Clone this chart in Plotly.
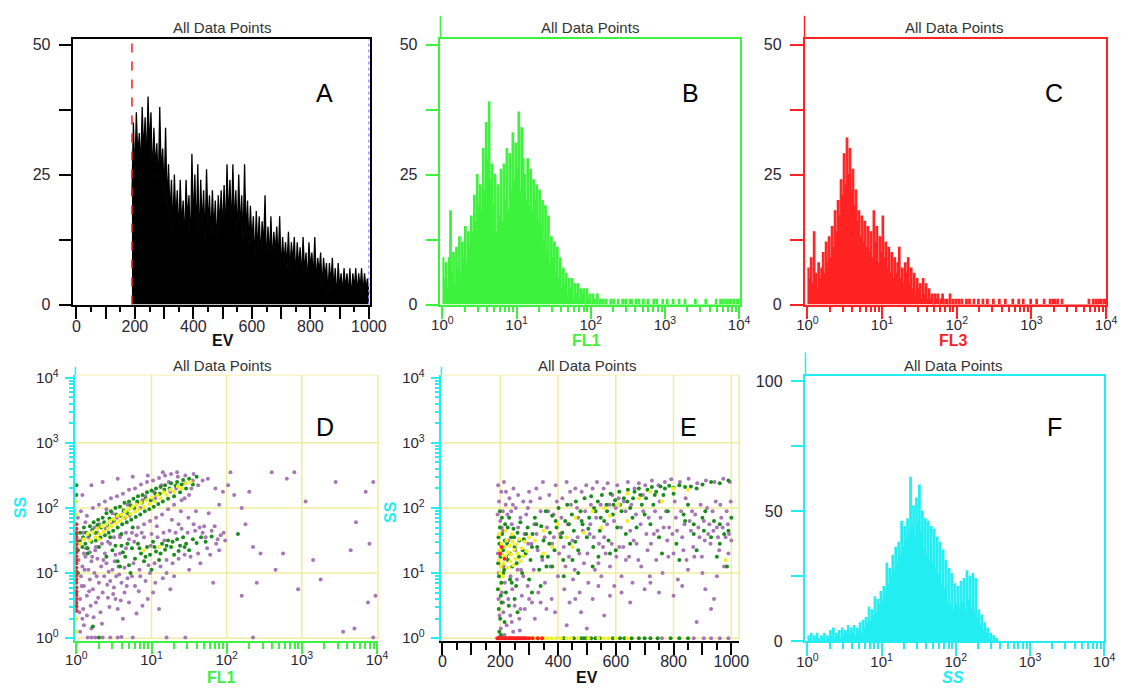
import plotly.graph_objects as go

W, H = 1128, 695
FONT = "Liberation Sans"
TICKC = "#2a2535"

# ---------------- DATA ----------------
# Panel A: EV histogram, counts per channel for EV = 190, 195, ..., 1000
A_ev_start = 190
A_ev_step = 5
A_counts = [
    21, 35, 24, 37, 28, 33, 26, 38, 29, 36,
    27, 40, 30, 37, 24, 34, 26, 31, 22, 38,
    25, 30, 21, 34, 19, 27, 17, 24, 14, 25,
    16, 22, 13, 24, 15, 20, 12, 24, 16, 21,
    10, 29, 15, 25, 13, 27, 11, 24, 15, 22,
    12, 26, 15, 21, 13, 22, 14, 20, 11, 21,
    15, 22, 14, 23, 13, 27, 16, 24, 14, 27,
    15, 22, 13, 25, 14, 21, 12, 27, 13, 20,
    11, 19, 12, 17, 8, 18, 10, 17, 9, 16,
    11, 21, 7, 15, 9, 17, 8, 14, 10, 15,
    8, 17, 6, 13, 8, 12, 7, 14, 6, 12,
    8, 13, 5, 12, 7, 11, 5, 13, 6, 10,
    4, 12, 7, 10, 5, 13, 4, 9, 6, 10,
    3, 9, 5, 8, 2, 8, 4, 9, 3, 7,
    1, 8, 3, 6, 2, 7, 3, 6, 2, 7,
    1, 6, 3, 7, 2, 6, 3, 7, 2, 6,
    3, 5, 2,
]
A_gate_low = 190      # red dashed gate
A_gate_high = 1000    # blue dotted gate

# Panels B, C, F: log histograms, one count per 0.02 decade starting at 10^0
LOG_STEP = 0.02
B_fl1_counts = [
    9, 5, 8, 3, 9, 18, 6, 10, 4, 11,
    7, 13, 6, 12, 9, 15, 8, 14, 11, 17,
    14, 21, 16, 25, 19, 23, 18, 30, 22, 35,
    28, 39, 24, 27, 19, 25, 14, 23, 17, 26,
    16, 27, 20, 30, 18, 29, 22, 33, 24, 31,
    26, 37, 22, 34, 28, 25, 20, 28, 19, 26,
    18, 24, 20, 23, 16, 22, 15, 20, 12, 19,
    10, 17, 8, 13, 9, 12, 6, 11, 5, 9,
    3, 7, 4, 6, 2, 5, 3, 5, 1, 4,
    2, 4, 1, 3, 2, 3, 0, 3, 1, 2,
    0, 2, 1, 0, 2, 0, 1, 0, 1, 0,
    1, 0, 0, 1, 0, 1, 0, 0, 1, 0,
    0, 1, 0, 1, 0, 0, 1, 1, 0, 0,
    1, 0, 1, 0, 0, 1, 0, 0, 1, 0,
    0, 0, 1, 0, 1, 0, 0, 0, 1, 0,
    0, 1, 0, 0, 0, 1, 0, 0, 0, 1,
    0, 0, 0, 1, 0, 0, 0, 0, 0, 0,
    1, 0, 0, 0, 0, 0, 0, 1, 0, 0,
    0, 0, 0, 0, 1, 0, 0, 1, 0, 1,
    0, 1, 0, 1, 1, 0, 1, 0, 1, 1,
    0,
]
C_fl3_counts = [
    7, 5, 9, 4, 14, 6, 3, 8, 5, 7,
    10, 6, 12, 8, 13, 9, 15, 11, 18, 14,
    20, 17, 24, 21, 29, 23, 32, 25, 30, 22,
    26, 19, 22, 16, 18, 13, 17, 12, 16, 11,
    15, 10, 14, 9, 18, 12, 15, 8, 13, 10,
    17, 9, 12, 7, 11, 6, 10, 5, 9, 6,
    8, 11, 5, 7, 4, 8, 6, 9, 4, 7,
    3, 6, 2, 5, 3, 4, 1, 5, 2, 4,
    1, 3, 1, 2, 0, 2, 1, 2, 0, 1,
    2, 0, 1, 1, 0, 2, 0, 1, 0, 1,
    0, 1, 0, 1, 0, 0, 1, 0, 1, 0,
    0, 1, 0, 0, 1, 0, 0, 1, 0, 0,
    1, 0, 0, 0, 1, 0, 0, 0, 1, 0,
    0, 0, 1, 0, 0, 0, 0, 1, 0, 0,
    0, 1, 0, 0, 1, 0, 0, 0, 0, 1,
    0, 0, 0, 1, 0, 0, 0, 0, 1, 0,
    0, 0, 1, 0, 1, 1, 0, 1, 0, 0,
    1, 0, 0, 0, 0, 0, 0, 0, 0, 0,
    0, 0, 0, 0, 0, 0, 0, 0, 1, 0,
    0, 1, 0, 1, 0, 1, 1, 0, 1, 1,
    0,
]
F_ss_counts = [
    2, 1, 3, 0, 2, 1, 3, 1, 0, 2,
    1, 3, 0, 2, 1, 4, 2, 5, 1, 3,
    2, 4, 1, 5, 2, 4, 3, 6, 2, 5,
    3, 6, 2, 5, 4, 7, 3, 8, 5, 9,
    7, 13, 8, 12, 10, 17, 11, 16, 14, 19,
    15, 21, 18, 30, 22, 28, 25, 33, 27, 36,
    30, 38, 33, 46, 36, 44, 39, 47, 42, 63,
    44, 52, 40, 55, 45, 60, 42, 50, 36, 47,
    33, 46, 31, 44, 30, 43, 28, 40, 26, 38,
    22, 35, 20, 31, 15, 28, 14, 26, 12, 22,
    14, 21, 13, 23, 15, 24, 12, 27, 16, 25,
    13, 26, 11, 24, 9, 12, 6, 10, 4, 7,
    3, 5, 1, 3, 0, 2, 0, 1, 0, 0,
]

# Panel D: FL1 vs SS dot plot, positions in decades (log10 FL1, log10 SS)
D_purple = [
    (0.03,1.20),(0.06,0.95),(0.08,1.10),(0.10,0.80),(0.12,1.25),(0.14,0.65),(0.16,1.05),(0.18,0.90),
    (0.20,1.18),(0.22,0.75),(0.24,1.00),(0.26,0.55),(0.28,1.22),(0.30,0.85),(0.33,1.10),(0.35,0.70),
    (0.37,0.95),(0.40,1.15),(0.42,0.62),(0.45,0.88),(0.48,1.05),(0.50,0.78),(0.53,0.95),(0.56,1.10),
    (0.60,0.85),(0.64,0.70),(0.68,0.92),(0.05,0.60),(0.09,0.45),(0.13,1.38),(0.19,0.50),(0.25,1.35),
    (0.32,0.40),(0.38,1.30),(0.44,0.48),(0.52,0.60),(0.58,1.30),(0.70,0.55),(0.78,0.80),(0.85,0.95),
    (0.95,0.60),(1.05,0.85),(1.25,0.75),(1.10,0.45),(0.88,0.50),(0.62,0.30),
    (0.02,1.85),(0.06,1.95),(0.10,1.30),(0.14,1.88),(0.18,1.32),(0.22,2.00),(0.26,1.40),(0.30,2.05),
    (0.34,1.45),(0.38,2.10),(0.42,1.48),(0.46,2.15),(0.50,1.55),(0.54,2.18),(0.58,1.58),(0.62,2.22),
    (0.66,1.62),(0.70,2.28),(0.74,1.62),(0.78,2.30),(0.82,1.70),(0.86,2.36),(0.90,1.75),(0.94,2.40),
    (0.98,1.80),(1.02,2.42),(1.06,1.85),(1.10,2.46),(1.14,1.90),(1.18,2.50),(1.22,1.98),(1.26,2.52),
    (1.30,2.05),(1.34,2.55),(1.40,2.12),(1.45,2.50),(1.50,2.20),(1.56,2.52),(1.62,2.35),(1.68,2.42),
    (0.08,2.20),(0.20,2.35),(0.35,2.40),(0.55,2.45),(0.75,2.48),(0.95,2.50),(1.15,2.55),(1.35,2.48),
    (0.12,1.78),(0.40,1.98),(0.65,1.85),(0.85,2.00),(1.05,2.15),(1.25,2.25),(0.28,1.62),(0.48,1.92),
    (0.68,2.05),(0.88,2.12),(1.45,2.38),(1.55,2.42),
    (0.45,1.45),(0.52,1.28),(0.58,1.55),(0.64,1.08),(0.70,1.52),(0.76,1.15),(0.80,1.58),(0.84,1.05),
    (0.90,1.55),(0.96,1.12),(1.00,1.60),(1.04,1.15),(1.08,1.55),(1.12,1.10),(1.16,1.62),(1.20,1.20),
    (1.24,1.65),(1.28,1.15),(1.32,1.62),(1.36,1.22),(1.40,1.68),(1.44,1.28),(1.48,1.62),(1.52,1.25),
    (1.58,1.65),(1.62,1.30),(1.68,1.62),(1.74,1.38),(1.80,1.65),(1.86,1.45),(1.92,1.58),(1.98,1.50),
    (1.96,1.62),(1.90,1.35),(1.78,1.28),(1.70,1.72),(1.56,1.75),(1.36,1.75),(0.98,1.00),(1.20,1.00),
    (2.05,2.55),(2.10,2.20),(2.20,2.00),(2.25,1.75),(2.30,2.25),(2.35,1.40),(2.45,1.30),(2.60,2.55),
    (2.65,1.05),(2.75,1.30),(2.80,2.45),(2.90,2.55),(2.95,0.75),(3.05,2.10),(3.15,1.20),(3.25,0.90),
    (3.45,2.40),(3.65,1.35),(3.70,0.15),(3.85,2.25),(3.95,2.40),(3.72,1.78),(3.90,1.45),(3.88,0.55),
    (3.55,0.10),(3.98,0.65),(2.40,0.85),(2.20,0.65),(1.75,2.45),(1.85,2.30),(1.95,2.25),(1.82,0.85),
    (1.90,2.05),(2.02,2.35),
    (0.15,0.01),(0.20,0.01),(0.25,0.01),(0.35,0.01),(0.45,0.01),(0.55,0.01),(0.60,0.02),(0.75,0.01),
    (1.20,0.01),(1.45,0.01),(2.35,0.01),(3.95,0.01),(0.05,0.10),(0.10,0.20),(0.08,0.30),(0.14,0.35),
    (0.20,0.15),
    (0.05,1.50),(0.09,1.62),(0.11,1.05),(0.16,1.55),(0.21,1.25),(0.24,1.70),(0.27,0.95),(0.31,1.75),
    (0.36,1.20),(0.39,1.68),(0.43,1.02),(0.47,1.78),(0.51,1.18),(0.54,1.85),(0.57,0.98),(0.63,1.95),
    (0.66,1.38),(0.71,1.88),(0.77,1.48),(0.81,2.08),(0.87,1.62),(0.92,2.18),(0.99,1.42),(1.03,2.25),
    (1.07,1.72),(1.13,2.35),(1.17,1.50),(1.23,2.40),(1.27,1.82),(1.33,2.30),(1.39,1.95),(1.44,2.15),
    (1.49,1.85),(1.53,2.30),(1.59,1.95),(1.64,1.70),(1.72,1.55),(1.76,1.92),(1.84,1.72),(1.88,1.52),
    (0.07,0.80),(0.17,0.72),(0.29,0.62),(0.41,0.82),(0.49,0.68),(0.59,0.58),(0.67,0.80),(0.74,0.95),
    (0.83,0.72),(0.92,0.88),(1.02,0.70),(1.15,0.92),(0.04,0.40),(0.23,0.32),(0.34,0.22),(0.55,0.45),
    (0.80,0.38),(1.30,0.95),(1.50,1.05),(1.65,1.15),
]
D_green = [
    (0.02,1.35),(0.05,1.62),(0.08,1.40),(0.10,1.70),(0.12,1.45),(0.15,1.38),(0.18,1.72),(0.20,1.48),
    (0.23,1.78),(0.26,1.50),(0.29,1.82),(0.32,1.55),(0.35,1.85),(0.38,1.58),(0.40,1.92),(0.43,1.62),
    (0.46,1.95),(0.49,1.65),(0.52,2.00),(0.55,1.70),(0.58,2.02),(0.61,1.75),(0.64,2.08),(0.67,1.78),
    (0.70,2.10),(0.73,1.82),(0.76,2.14),(0.79,1.86),(0.82,2.18),(0.85,1.90),(0.88,2.20),(0.91,1.95),
    (0.94,2.24),(0.97,1.98),(1.00,2.27),(1.03,2.02),(1.06,2.30),(1.09,2.06),(1.12,2.32),(1.15,2.10),
    (1.18,2.35),(1.22,2.14),(1.26,2.38),(1.30,2.18),(1.34,2.40),(1.38,2.24),(1.42,2.43),(1.46,2.30),
    (1.50,2.45),(1.55,2.36),(1.60,2.48),(0.60,1.60),(0.45,1.55),(0.75,1.70),(0.30,1.40),(0.15,1.30),
    (0.40,1.25),(0.48,1.35),(0.55,1.18),(0.60,1.42),(0.65,1.25),(0.70,1.12),(0.74,1.38),(0.78,1.22),
    (0.82,1.45),(0.86,1.30),(0.90,1.18),(0.94,1.40),(0.98,1.28),(1.02,1.48),(1.06,1.33),(1.10,1.20),
    (1.14,1.45),(1.18,1.36),(1.22,1.50),(1.26,1.40),(1.30,1.28),(1.34,1.52),(1.38,1.42),(1.42,1.55),
    (1.46,1.45),(1.50,1.35),(1.55,1.52),(1.60,1.46),(1.66,1.55),(1.72,1.48),(1.80,1.56),(2.15,1.60),
    (0.72,1.00),(1.00,1.05),
    (0.00,2.35),(0.00,2.20),(0.00,1.60),(0.00,0.70),(0.00,0.50),(0.02,1.00),(0.22,0.18),(0.30,0.01),
    (0.04,1.48),(0.09,1.55),(0.13,1.62),(0.17,1.58),(0.21,1.66),(0.25,1.62),(0.28,1.74),(0.33,1.70),
    (0.37,1.78),(0.41,1.74),(0.44,1.84),(0.50,1.80),(0.53,1.90),(0.59,1.88),(0.63,1.96),(0.68,1.92),
    (0.72,2.04),(0.77,2.00),(0.81,2.10),(0.87,2.08),(0.92,2.14),(0.99,2.12),(1.05,2.22),(1.11,2.22),
    (1.17,2.28),(1.24,2.30),(1.32,2.34),(1.40,2.36),(0.84,1.38),(0.92,1.25),(1.04,1.40),(1.12,1.30),
    (1.20,1.42),(1.28,1.48),(1.36,1.34),(1.44,1.40),(0.62,1.32),(0.68,1.45),(0.52,1.42),(0.58,1.10),
]
D_yellow = [
    (0.10,1.52),(0.15,1.60),(0.18,1.50),(0.22,1.63),(0.25,1.55),(0.28,1.68),(0.31,1.60),(0.34,1.72),
    (0.36,1.64),(0.40,1.75),(0.42,1.68),(0.45,1.80),(0.47,1.72),(0.50,1.83),(0.52,1.76),(0.55,1.88),
    (0.57,1.80),(0.60,1.90),(0.62,1.84),(0.65,1.95),(0.67,1.87),(0.70,1.98),(0.72,1.91),(0.75,2.02),
    (0.78,1.94),(0.80,2.05),(0.83,1.98),(0.86,2.08),(0.90,2.02),(0.93,2.12),(0.97,2.06),(1.00,2.16),
    (1.04,2.10),(1.08,2.20),(1.12,2.15),(1.16,2.24),(1.20,2.20),(1.25,2.28),(1.30,2.25),(1.35,2.33),
    (1.40,2.30),(1.46,2.38),(1.52,2.40),(0.05,1.45),(0.30,1.52),
    (0.00,1.90),(0.00,2.10),(0.00,1.20),(0.00,0.90),(0.00,0.30),(0.00,0.10),(0.90,1.35),(1.10,1.40),
]
D_red_ss_at_fl1_min = [0.42,0.48,0.55,0.60,0.66,0.72,0.78,0.85,0.90,0.96,1.02,1.08,
                       1.15,1.20,1.26,1.32,1.38,1.44,1.50,1.55,1.62,1.68,1.75]

# Panel E: EV vs SS dot plot, (EV channel, log10 SS)
E_purple = [
    (191,1.90),(193,2.35),(194,0.60),(196,2.10),(198,0.35),(200,1.80),(202,0.15),(204,2.25),
    (206,0.70),(209,1.95),(211,0.40),(213,2.40),(216,0.85),(219,2.05),(222,0.20),(225,1.90),
    (228,0.60),(232,2.15),(235,0.35),(238,1.95),(242,0.75),(246,2.30),(250,0.50),(254,2.00),
    (258,0.90),(262,2.20),(266,0.30),(270,1.85),(275,0.65),(280,2.10),(285,0.45),(290,1.90),
    (295,0.80),(300,2.25),(192,1.30),(210,1.65),(240,1.75),(260,1.05),(280,0.95),(297,1.45),
    (198,0.02),(215,0.05),(245,0.10),(268,0.12),
    (305,2.10),(310,0.55),(318,1.75),(325,2.30),(332,0.70),(340,1.95),(348,2.40),(355,0.85),
    (362,1.70),(370,2.20),(378,0.60),(385,1.90),(392,2.35),(400,0.95),(408,1.60),(415,2.15),
    (422,0.75),(430,2.40),(438,1.25),(445,2.05),(452,0.90),(460,2.30),(468,1.55),(475,0.70),
    (482,2.25),(490,1.15),(498,2.35),(505,0.85),(512,1.75),(520,2.30),(528,1.05),(535,2.40),
    (542,1.45),(550,0.95),(558,2.30),(565,1.30),(572,2.38),(580,1.10),(588,2.20),(595,0.80),
    (330,1.35),(380,1.45),(420,1.40),(470,1.85),(510,1.60),(560,1.55),(600,2.00),(440,0.55),
    (520,0.60),(580,0.65),(320,0.30),(360,0.45),(480,0.40),(560,0.35),(430,0.20),(500,0.15),
    (605,2.35),(612,1.40),(620,0.95),(628,2.10),(635,1.20),(642,2.40),(650,1.65),(658,0.85),
    (665,2.30),(672,1.45),(680,2.38),(688,1.10),(695,1.95),(702,2.35),(710,1.35),(718,0.95),
    (725,2.42),(732,1.60),(740,1.20),(748,2.35),(755,1.85),(762,1.00),(770,2.40),(778,1.50),
    (785,1.70),(792,2.44),(800,1.30),(808,1.85),(815,0.90),(822,2.40),(830,1.55),(838,1.75),
    (845,1.20),(852,2.45),(860,1.65),(868,1.40),(875,1.90),(882,2.38),(890,1.55),(898,1.25),
    (905,1.80),(912,2.42),(920,1.60),(928,1.45),(935,1.95),(942,2.40),(950,1.70),(958,1.35),
    (965,1.85),(972,2.45),(980,1.55),(988,1.75),(995,2.40),(1000,1.50),(850,1.05),(900,1.00),
    (950,0.95),(700,0.75),(750,0.70),(800,0.65),(650,0.55),(930,0.45),(880,0.25),(940,0.60),
    (990,1.30),(975,1.10),
    (760,0.0),(870,0.0),(905,0.0),(930,0.0),(960,0.0),(990,0.0),
    (195,1.00),(205,1.70),(212,1.10),(220,2.25),(228,1.50),(236,0.95),(244,2.05),(252,1.35),
    (262,1.70),(272,1.05),(284,1.60),(296,2.00),(308,1.45),(316,1.05),(326,1.60),(338,2.15),
    (346,1.20),(354,1.55),(366,1.95),(374,1.10),(386,1.55),(396,2.10),(404,1.30),(412,1.85),
    (426,1.10),(434,1.75),(442,2.25),(450,1.50),(458,1.05),(466,2.00),(474,1.30),(486,1.65),
    (494,1.95),(502,1.30),(514,2.05),(524,1.55),(532,1.85),(540,1.15),(548,2.05),(556,1.40),
    (570,1.75),(578,2.05),(586,1.45),(594,1.80),(602,1.25),(610,2.15),(618,1.70),(626,1.40),
    (634,1.95),(646,1.25),(654,2.05),(662,1.50),(670,1.90),(678,1.20),(686,1.75),(694,2.20),
    (706,1.60),(714,1.85),(722,1.45),(736,1.95),(744,1.65),(752,2.10),(766,1.70),(774,1.95),
    (782,1.25),(796,1.60),(804,2.10),(812,1.65),(826,1.95),(834,1.35),(842,2.15),(856,1.80),
    (864,1.95),(872,1.25),(886,1.70),(894,2.05),(908,1.50),(916,2.00),(924,1.75),(938,1.65),
    (946,2.10),(954,1.55),(962,2.05),(970,1.70),(984,1.95),(992,1.60),(998,2.10),(210,0.55),
    (240,0.25),(270,0.45),(300,0.60),(340,0.55),(390,0.40),(460,0.60),(540,0.80),(620,0.70),
    (720,0.85),(830,0.80),(910,0.75),
]
E_green = [
    (192,0.75),(194,1.55),(196,0.95),(199,1.70),(201,1.25),(204,0.85),(207,1.60),(210,1.35),
    (214,1.05),(217,1.75),(220,0.70),(224,1.45),(227,1.20),(231,1.85),(234,0.90),(238,1.55),
    (242,1.10),(246,1.68),(250,1.40),(255,0.80),(260,1.62),(265,1.25),(270,1.78),(276,1.00),
    (282,1.52),(288,1.30),(295,1.70),(195,0.45),(200,0.30),(205,0.55),(215,0.25),(230,0.50),
    (250,0.60),(197,0.10),(203,0.05),(199,1.95),(260,0.40),
    (305,1.20),(312,1.60),(320,1.85),(328,1.40),(335,1.05),(342,1.72),(350,1.50),(358,1.95),
    (365,1.25),(372,1.62),(380,1.88),(388,1.35),(395,1.70),(402,2.00),(410,1.55),(418,1.20),
    (425,1.80),(432,2.05),(440,1.45),(448,1.90),(455,1.65),(462,2.10),(470,1.35),(478,1.95),
    (485,1.75),(492,2.15),(500,1.55),(508,1.85),(515,2.18),(522,1.40),(530,1.95),(538,2.10),
    (545,1.65),(552,2.20),(560,1.80),(568,2.05),(575,1.50),(582,2.22),(590,1.90),(598,2.12),
    (605,1.70),(612,2.25),(620,1.95),(628,2.15),(635,1.60),(642,2.28),(650,2.00),(658,1.85),
    (665,2.25),(672,1.70),(680,2.30),(690,2.05),(700,1.90),(340,0.80),(420,0.95),(470,1.00),
    (360,1.10),(540,1.25),(600,1.35),(300,0.90),
    (710,2.28),(725,2.32),(740,2.25),(755,2.33),(770,2.30),(785,2.34),(800,2.31),(820,2.35),
    (840,2.32),(860,2.33),(880,2.30),(900,2.36),(930,2.40),(960,2.38),(990,2.42),
    (720,1.75),(750,1.55),(780,1.95),(810,1.45),(840,1.80),(870,1.60),(900,1.85),(930,1.55),
    (960,1.75),(990,1.65),(760,1.30),(820,1.20),(880,1.35),(950,1.25),(985,1.10),(730,2.05),
    (850,2.05),(910,1.95),(1000,1.85),(960,1.45),
    (420,0.0),(455,0.0),(480,0.0),(490,0.0),(500,0.0),(515,0.0),(530,0.0),(545,0.0),(590,0.0),
    (615,0.0),(630,0.0),(655,0.0),(680,0.0),(700,0.0),(720,0.0),(745,0.0),(790,0.0),(820,0.0),
    (850,0.0),
    (193,1.15),(197,1.45),(202,0.65),(206,1.85),(211,1.00),(216,1.50),(221,1.25),(226,1.70),
    (233,1.30),(240,0.85),(248,1.55),(257,1.15),(266,1.50),(278,1.35),(290,1.60),(310,1.40),
    (325,1.75),(345,1.25),(370,1.45),(392,1.80),(415,1.62),(438,1.75),(460,1.48),(482,1.80),
    (505,1.68),(525,2.00),(548,1.85),(570,1.95),(592,2.05),(615,2.05),(640,2.10),(660,2.15),
    (685,2.20),(705,2.15),(735,2.20),(765,2.20),(800,2.22),(835,1.90),(870,1.75),(905,1.65),
    (940,1.80),(975,1.60),(310,0.70),(380,1.10),(450,1.20),(520,1.10),(580,1.30),(650,1.45),
]
E_yellow = [
    (195,1.20),(198,1.35),(202,1.10),(205,1.45),(208,1.28),(212,1.15),(215,1.40),(218,1.25),
    (222,1.50),(225,1.08),(228,1.32),(232,1.42),(235,1.18),(238,1.28),(242,1.48),(245,1.12),
    (248,1.36),(252,1.22),(255,1.44),(260,1.30),(265,1.52),(270,1.18),(275,1.38),(280,1.26),
    (285,1.48),(292,1.34),(300,1.55),(200,1.00),(210,0.95),(196,1.60),(220,1.65),(240,1.60),
    (320,1.50),(350,1.65),(380,1.40),(400,1.75),(430,1.55),(460,1.85),(490,1.62),(520,1.95),
    (550,1.70),(580,1.88),(610,2.05),(640,1.80),(680,2.15),(720,2.25),(760,2.10),(800,2.30),
    (850,2.28),(350,1.30),(450,1.40),(560,2.00),(640,2.22),(980,1.20),
    (305,0.0),(318,0.0),(335,0.0),(350,0.0),(362,0.0),(378,0.0),(395,0.0),(410,0.0),(430,0.0),
    (445,0.0),(470,0.0),(505,0.0),(540,0.0),(560,0.0),(575,0.0),(600,0.0),(640,0.0),
]
E_red = [
    (190,0.0),(195,0.0),(200,0.0),(205,0.0),(210,0.0),(215,0.0),(220,0.0),(225,0.0),(230,0.0),
    (235,0.0),(240,0.0),(245,0.0),(250,0.0),(255,0.0),(260,0.0),(265,0.0),(270,0.0),(275,0.0),
    (280,0.0),(285,0.0),(290,0.0),(300,0.0),(312,0.0),(330,0.0),(345,0.0),
    (200,1.30),(215,1.22),(205,1.40),
]

# tick definitions
LIN_TICKS = [0, 100, 200, 300, 400, 500, 600, 700, 800, 900, 1000]
LIN_LABELS = ["0", "", "200", "", "400", "", "600", "", "800", "", "1000"]
LIN_MINOR = [50, 150, 250, 350, 450, 550, 650, 750, 850, 950]
DEC_TICKS = [1, 10, 100, 1000, 10000]
DEC_LABELS = ["10<sup>0</sup>", "10<sup>1</sup>", "10<sup>2</sup>", "10<sup>3</sup>", "10<sup>4</sup>"]
DEC_MINOR = [m * 10 ** d for d in range(4) for m in range(2, 10)]
CNT50_TICKS = [0, 12.5, 25, 37.5, 50]
CNT50_LABELS = ["0", "", "25", "", "50"]
CNT100_TICKS = [0, 25, 50, 75, 100]
CNT100_LABELS = ["0", "", "50", "", "100"]
D_GRID_FL1 = [10, 100, 1000]
E_GRID_EV = [200, 400, 600, 800, 1000]
GRID_SS = [10, 100, 1000]

# colours
BLACK = "#000000"
GREEN = "#3cf23c"
RED = "#ff2222"
CYAN = "#22eef2"
YELLOW_GRID = "#f1ec9c"
DOT_PURPLE = "#a577b5"
DOT_GREEN = "#1c8c1c"
DOT_YELLOW = "#f2f020"
DOT_RED = "#ff2020"


# ---------------- helpers ----------------
def px_x(px):
    return px / W


def px_y(py):
    return 1 - py / H


def dom_x(a, b):
    return [px_x(a), px_x(b)]


def dom_y(top, bottom):
    return [px_y(bottom), px_y(top)]


def axis(domain, rng, color, tickvals, ticktext, ticklen, anchor, typ="linear",
         minor=None, minor_len=6, mirror=True, fsize=16, standoff=0):
    d = dict(domain=domain, range=rng, type=typ, anchor=anchor,
             showline=True, linecolor=color, linewidth=1.5, mirror=mirror,
             ticks="outside", tickcolor=color, tickwidth=1.5, ticklen=ticklen,
             tickmode="array", tickvals=tickvals, ticktext=ticktext,
             showgrid=False, zeroline=False, fixedrange=True,
             ticklabelstandoff=standoff,
             tickfont=dict(family=FONT, size=fsize, color=TICKC))
    if minor is not None:
        d["minor"] = dict(tickmode="array", tickvals=minor, ticks="outside",
                          ticklen=minor_len, tickcolor=color, tickwidth=1.5,
                          showgrid=False)
    return d


def dots(pts, color, xa, ya, xlog, size=4):
    xs = [10 ** p[0] if xlog else p[0] for p in pts]
    ys = [10 ** p[1] for p in pts]
    return go.Scatter(x=xs, y=ys, mode="markers", xaxis=xa, yaxis=ya,
                      marker=dict(color=color, size=size, line=dict(width=0)),
                      hoverinfo="skip", showlegend=False)


def hist_log(counts, color, xa, ya):
    xs = [10 ** (i * LOG_STEP) for i in range(len(counts))]
    return go.Scatter(x=xs, y=counts, mode="lines", xaxis=xa, yaxis=ya,
                      line=dict(color=color, width=1.2, shape="hv"), fill="tozeroy",
                      fillcolor=color, hoverinfo="skip", showlegend=False)


fig = go.Figure()

# Panel A
A_ev = [A_ev_start + i * A_ev_step for i in range(len(A_counts))]
fig.add_trace(go.Scatter(x=A_ev, y=A_counts, mode="lines", xaxis="x", yaxis="y",
                         line=dict(color=BLACK, width=1.3), fill="tozeroy",
                         fillcolor=BLACK, hoverinfo="skip", showlegend=False))
# Panels B, C, F
fig.add_trace(hist_log(B_fl1_counts, GREEN, "x2", "y2"))
fig.add_trace(hist_log(C_fl3_counts, RED, "x3", "y3"))
fig.add_trace(hist_log(F_ss_counts, CYAN, "x6", "y6"))
# Panel D
fig.add_trace(dots(D_purple, DOT_PURPLE, "x4", "y4", True))
fig.add_trace(dots(D_green, DOT_GREEN, "x4", "y4", True))
fig.add_trace(dots(D_yellow, DOT_YELLOW, "x4", "y4", True))
fig.add_trace(dots([(0.0, v) for v in D_red_ss_at_fl1_min], DOT_RED, "x4", "y4", True))
# Panel E
fig.add_trace(dots(E_purple, DOT_PURPLE, "x5", "y5", False))
fig.add_trace(dots(E_green, DOT_GREEN, "x5", "y5", False))
fig.add_trace(dots(E_yellow, DOT_YELLOW, "x5", "y5", False))
fig.add_trace(dots(E_red, DOT_RED, "x5", "y5", False))

LOGY_RANGE = [-0.045, 4.045]
SS_TOP = 10 ** LOGY_RANGE[1]
XSTAND = -7

layout = dict(
    width=W, height=H, margin=dict(l=0, r=0, t=0, b=0),
    paper_bgcolor="white", plot_bgcolor="rgba(0,0,0,0)",
    showlegend=False,
    xaxis=axis(dom_x(65, 368.6), [-10, 1003], BLACK, LIN_TICKS, LIN_LABELS, 13, "y",
               minor=LIN_MINOR, minor_len=6, standoff=XSTAND),
    yaxis=axis(dom_y(32, 304), [0, 51.03], BLACK, CNT50_TICKS, CNT50_LABELS, 13, "x",
               standoff=5),
    xaxis2=axis(dom_x(441, 748), [-0.026, 4.013], GREEN, DEC_TICKS, DEC_LABELS, 13, "y2",
                typ="log", minor=DEC_MINOR, minor_len=6, fsize=15, standoff=XSTAND),
    yaxis2=axis(dom_y(32, 304), [0, 51.03], GREEN, CNT50_TICKS, CNT50_LABELS, 13, "x2",
                standoff=5),
    xaxis3=axis(dom_x(814, 1123), [-0.039, 4.0], RED, DEC_TICKS, DEC_LABELS, 13, "y3",
                typ="log", minor=DEC_MINOR, minor_len=6, fsize=15, standoff=XSTAND),
    yaxis3=axis(dom_y(32, 304), [0, 51.03], RED, CNT50_TICKS, CNT50_LABELS, 13, "x3",
                standoff=5),
    xaxis4=axis(dom_x(67, 377), [-0.013, 4.013], GREEN, DEC_TICKS, DEC_LABELS, 11, "y4",
                typ="log", minor=DEC_MINOR, minor_len=6, mirror=False, fsize=15,
                standoff=XSTAND),
    yaxis4=axis(dom_y(376, 649), LOGY_RANGE, CYAN, DEC_TICKS, DEC_LABELS, 9, "x4",
                typ="log", minor=DEC_MINOR, minor_len=5, mirror=False, fsize=15, standoff=3),
    xaxis5=axis(dom_x(442, 747), [-3.4, 1027], BLACK, LIN_TICKS, LIN_LABELS, 12, "y5",
                minor=LIN_MINOR, minor_len=7, mirror=False, standoff=XSTAND),
    yaxis5=axis(dom_y(376, 649), LOGY_RANGE, CYAN, DEC_TICKS, DEC_LABELS, 9, "x5",
                typ="log", minor=DEC_MINOR, minor_len=5, mirror=False, fsize=15, standoff=3),
    xaxis6=axis(dom_x(815, 1121), [-0.026, 4.0], CYAN, DEC_TICKS, DEC_LABELS, 13, "y6",
                typ="log", minor=DEC_MINOR, minor_len=6, fsize=15, standoff=XSTAND),
    yaxis6=axis(dom_y(377, 649), [0, 102], CYAN, CNT100_TICKS, CNT100_LABELS, 13, "x6",
                standoff=5),
)
fig.update_layout(**layout)

shapes = []
# Panel A gates
shapes.append(dict(type="line", xref="x", yref="y domain", x0=A_gate_low, x1=A_gate_low,
                   y0=0, y1=1, line=dict(color="#ff1a1a", width=1.5, dash="dash"), layer="above"))
shapes.append(dict(type="line", xref="x", yref="y domain", x0=A_gate_high, x1=A_gate_high,
                   y0=0, y1=1, line=dict(color="#8f8fff", width=1.5, dash="dot"), layer="above"))
# y-axis lines extending above the frames
for xa, col, top_px, frame_px in [("x2", GREEN, 8, 32), ("x3", RED, 8, 32),
                                  ("x4", CYAN, 368, 376), ("x5", CYAN, 368, 376),
                                  ("x6", CYAN, 353, 377)]:
    shapes.append(dict(type="line", xref=xa + " domain", yref="paper", x0=0, x1=0,
                       y0=px_y(frame_px), y1=px_y(top_px),
                       line=dict(color=col, width=1.5), layer="above"))
# Dot plot frames and grids (yellow)
for xa, ya, vgrid in [("x4", "y4", D_GRID_FL1), ("x5", "y5", E_GRID_EV)]:
    shapes.append(dict(type="rect", xref=xa + " domain", yref=ya, x0=0, x1=1,
                       y0=1, y1=SS_TOP, line=dict(color=YELLOW_GRID, width=1.5),
                       layer="below"))
    for v in vgrid:
        shapes.append(dict(type="line", xref=xa, yref=ya, x0=v, x1=v, y0=1,
                           y1=SS_TOP, line=dict(color=YELLOW_GRID, width=1.5),
                           layer="below"))
    for v in GRID_SS:
        shapes.append(dict(type="line", xref=xa + " domain", yref=ya, x0=0, x1=1, y0=v,
                           y1=v, line=dict(color=YELLOW_GRID, width=1.5), layer="below"))
fig.update_layout(shapes=shapes)

ann = []


def text(x, y, s, size, color="#333333", bold=False, italic=False, angle=0, family=FONT):
    ann.append(dict(x=px_x(x), y=px_y(y), xref="paper", yref="paper",
                    text=f"<b>{s}</b>" if bold else s, showarrow=False,
                    xanchor="center", yanchor="middle", textangle=angle,
                    font=dict(family=family, size=size, color=color,
                              style="italic" if italic else "normal")))


for cx, cy in [(217, 20), (594, 20), (967, 20), (217, 366), (591, 366), (966, 366)]:
    text(cx, cy, "All Data Points", 15)
for letter, cx, cy in [("A", 322, 87), ("B", 697, 87), ("C", 1070, 87),
                       ("D", 323, 430), ("E", 695, 430), ("F", 1070, 430)]:
    text(cx, cy, letter, 25, color="#000000")
text(218, 341, "EV", 16, color="#111111", bold=True)
text(591, 341, "FL1", 16, color=GREEN, bold=True)
text(967, 341, "FL3", 16, color=RED, bold=True)
text(217, 686, "FL1", 16, color=GREEN, bold=True)
text(591, 686, "EV", 16, color="#111111", bold=True)
text(966, 686, "SS", 16, color=CYAN, bold=True, italic=True)
text(11, 512, "SS", 16, color=CYAN, bold=True, angle=-90)
text(390, 517, "SS", 16, color=CYAN, bold=True, angle=-90)
fig.update_layout(annotations=ann)

fig.write_html("out.html")
